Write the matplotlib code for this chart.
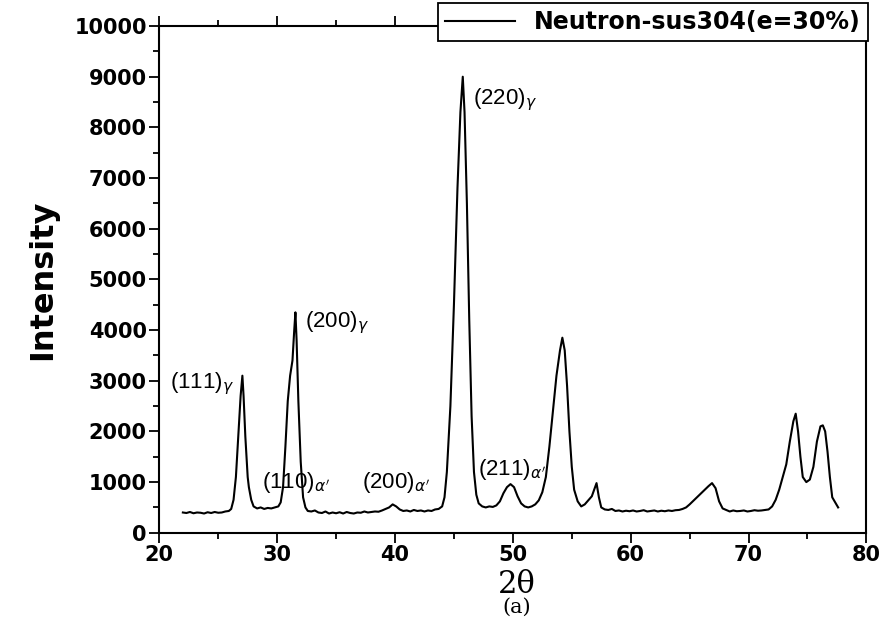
import matplotlib
matplotlib.use("Agg")
import matplotlib.pyplot as plt
from matplotlib.ticker import MultipleLocator
import numpy as np

# 2theta / intensity
two_theta = [
    22.0, 22.3, 22.6, 22.9, 23.2, 23.5, 23.8, 24.1, 24.4, 24.7, 25.0, 25.3, 25.6, 25.9,
    26.1, 26.3, 26.5, 26.7, 26.9, 27.05, 27.15, 27.3, 27.5, 27.6, 27.8, 28.0, 28.3, 28.6,
    28.9, 29.2, 29.5, 29.8, 30.1, 30.3, 30.5, 30.7, 30.9, 31.1, 31.3, 31.45, 31.55, 31.65,
    31.8, 32.0, 32.2, 32.4, 32.6, 32.9, 33.2, 33.5, 33.8, 34.1, 34.4, 34.7, 35.0, 35.3,
    35.6, 35.9, 36.2, 36.5, 36.8, 37.1, 37.4, 37.7, 38.0, 38.3, 38.6, 38.9, 39.2, 39.5,
    39.8, 40.1, 40.4, 40.7, 41.0, 41.3, 41.6, 41.9, 42.2, 42.5, 42.8, 43.1, 43.4, 43.7,
    44.0, 44.2, 44.4, 44.7, 45.0, 45.3, 45.55, 45.75, 45.9, 46.1, 46.3, 46.5, 46.7, 46.9,
    47.1, 47.4, 47.7, 48.0, 48.3, 48.6, 48.9, 49.2, 49.5, 49.8, 50.1, 50.4, 50.7, 51.0,
    51.3, 51.6, 51.9, 52.2, 52.5, 52.8, 53.1, 53.4, 53.7, 54.0, 54.2, 54.4, 54.6, 54.8,
    55.0, 55.2, 55.5, 55.8, 56.1, 56.4, 56.7, 56.9, 57.1, 57.3, 57.5, 57.8, 58.1, 58.4,
    58.7, 59.0, 59.3, 59.6, 59.9, 60.2, 60.5, 60.8, 61.1, 61.4, 61.7, 62.0, 62.3, 62.6,
    62.9, 63.2, 63.5, 63.8, 64.1, 64.4, 64.7, 65.0, 65.4, 65.8, 66.2, 66.6, 66.9, 67.2,
    67.5, 67.8, 68.1, 68.4, 68.7, 69.0, 69.3, 69.6, 69.9, 70.2, 70.5, 70.8, 71.1, 71.4,
    71.7, 72.0, 72.3, 72.6, 72.9, 73.2, 73.5, 73.8, 74.0, 74.2, 74.4, 74.6, 74.9, 75.2,
    75.5, 75.8, 76.1, 76.3, 76.5, 76.7, 76.9, 77.1, 77.3, 77.6,
]
intensity = [
    400, 390, 410, 385, 400, 395, 380, 405, 390, 410, 395, 400, 420, 430,
    470, 650, 1100, 1900, 2700, 3100, 2700, 1900, 1100, 900, 650, 520, 480, 500,
    470, 490, 480, 500, 520, 600, 900, 1700, 2600, 3100, 3400, 4000, 4350, 3800,
    2600, 1400, 700, 500, 430, 420, 440, 400, 390, 420, 380, 400, 385, 405,
    380, 410, 390, 380, 400, 395, 420, 400, 410, 420, 415, 440, 470, 500,
    560, 520, 460, 430, 440, 420, 450, 430, 440, 420, 440, 430, 460, 470,
    520, 700, 1200, 2500, 4500, 6800, 8300, 9000, 8300, 6500, 4200, 2300, 1200, 750,
    580, 520, 500, 520, 510, 540, 620, 780, 900, 960, 900, 720, 580, 520,
    500, 520, 560, 640, 800, 1100, 1700, 2400, 3100, 3600, 3850, 3600, 2900, 2000,
    1300, 850, 620, 520, 560, 640, 720, 850, 980, 700, 500, 460, 450, 470,
    430, 440, 420, 435, 425, 440, 420, 430, 445, 420, 430, 440, 420, 435,
    425, 440, 430, 445, 450, 470, 500, 560, 650, 740, 830, 920, 980, 880,
    620, 480, 450, 420, 440, 425, 430, 440, 420, 430, 445, 435, 440, 450,
    460, 520, 650, 850, 1100, 1350, 1800, 2200, 2350, 2000, 1500, 1100, 1000, 1050,
    1300, 1800, 2100, 2120, 2000, 1600, 1100, 700, 620, 500,
]

peak_labels = [r"(111)$_\gamma$", r"(200)$_\gamma$", r"(220)$_\gamma$",
               r"(110)$_{\alpha'}$", r"(200)$_{\alpha'}$", r"(211)$_{\alpha'}$"]
label_x = [20.9, 32.4, 46.6, 28.7, 37.2, 47.0]
label_y = [2950, 4150, 8550, 1000, 1000, 1250]

plt.rcParams["mathtext.fontset"] = "dejavusans"

fig = plt.figure(figsize=(8.85, 6.35), dpi=100)
ax = fig.add_axes([0.180, 0.161, 0.799, 0.798])

ax.plot(np.array(two_theta), np.array(intensity), color="black", lw=1.5,
        label="Neutron-sus304(e=30%)")

for txt, x, y in zip(peak_labels, label_x, label_y):
    ax.text(x, y, txt, fontsize=16, family="Liberation Sans", ha="left", va="center")

ax.set_xlim(20, 80)
ax.set_ylim(0, 10000)
ax.xaxis.set_major_locator(MultipleLocator(10))
ax.xaxis.set_minor_locator(MultipleLocator(5))
ax.yaxis.set_major_locator(MultipleLocator(1000))
ax.yaxis.set_minor_locator(MultipleLocator(500))
ax.tick_params(which="both", direction="out", top=True, right=False, width=1.3)
ax.tick_params(which="major", length=7, labelsize=15, pad=2)
ax.tick_params(which="minor", length=4)
for lab in ax.get_xticklabels() + ax.get_yticklabels():
    lab.set_fontweight("bold")
for sp in ax.spines.values():
    sp.set_linewidth(1.5)

ax.set_ylabel("Intensity", fontsize=23, fontweight="bold", labelpad=12)
fig.text(0.584, 0.080, "2\u03b8", fontsize=22, family="DejaVu Serif",
         ha="center", va="center")
fig.text(0.584, 0.043, "(a)", fontsize=15, family="DejaVu Serif",
         ha="center", va="center")

leg = ax.legend(loc="upper right", bbox_to_anchor=(0.981, 0.995),
                bbox_transform=fig.transFigure, fancybox=False, framealpha=1,
                edgecolor="black", prop={"weight": "bold", "size": 17},
                handlelength=3, borderpad=0.3, borderaxespad=0)
leg.get_frame().set_linewidth(1.3)

fig.savefig("out.png", dpi=100)
